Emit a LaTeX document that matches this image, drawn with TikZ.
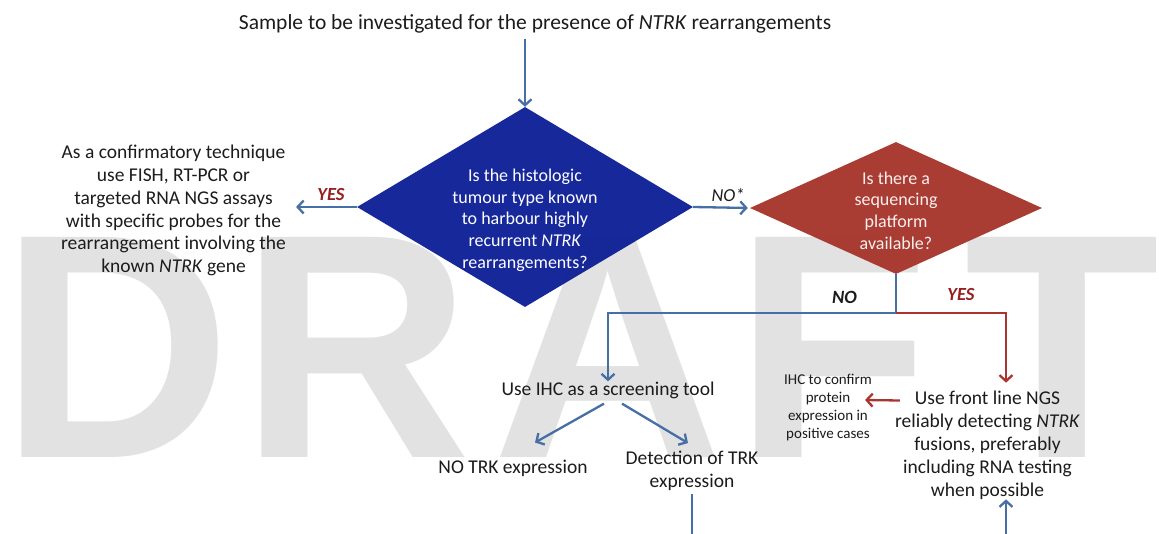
\documentclass[tikz,border=0pt]{standalone}
\usepackage{fontspec}
\setmainfont{Carlito}
\newfontfamily\wmfont{Liberation Sans Bold}
\usetikzlibrary{arrows.meta,shapes.geometric}

\definecolor{qblue}{RGB}{14,32,150}
\definecolor{qred}{RGB}{166,54,44}
\definecolor{lnblue}{RGB}{70,112,165}
\definecolor{lnred}{RGB}{172,52,46}
\definecolor{yesred}{RGB}{150,32,32}
\definecolor{wmgray}{RGB}{226,226,226}
\definecolor{ink}{RGB}{28,28,28}

\begin{document}
\begin{tikzpicture}[x=1pt,y=-1pt,
  wm/.style={font=\wmfont\fontsize{320}{320}\selectfont, text=wmgray, inner sep=0pt, anchor=base},
  body/.style={font=\fontsize{19.5}{22.9}\selectfont, text=ink, align=center, inner sep=0pt},
  small/.style={font=\fontsize{15}{18.3}\selectfont, text=ink, align=center, inner sep=0pt},
  qtxt/.style={font=\fontsize{18}{21.7}\selectfont, text=white, align=center, inner sep=0pt},
  qshape/.style={diamond, draw=none, fill opacity=0.96, inner sep=0pt},
  yeslbl/.style={font=\bfseries\itshape\fontsize{18.5}{20}\selectfont, text=yesred, inner sep=0pt},
  nolbl/.style={font=\itshape\fontsize{18.3}{20}\selectfont, text=ink, inner sep=0pt},
  conn/.style={draw=lnblue, line width=2.3pt},
  connred/.style={draw=lnred, line width=2.3pt},
  tip/.style={-{Straight Barb[length=6pt,width=13pt]}}
]
\useasboundingbox (0,0) rectangle (1159,533);
\clip (0,0) rectangle (1159,533);
\fill[white] (0,0) rectangle (1159,533);

% watermark lettering
\node[wm] (wD) at (116,457) {D};
\node[wm] (wR) at (356,457) {R};
\node[wm] (wA) at (608,457) {A};
\node[wm] (wF) at (832,457) {F};
\node[wm] (wT) at (1062,457) {T};

% decision shapes
\node[qshape, fill=qblue, minimum width=336pt, minimum height=200pt] (q1) at (525,207) {};
\node[qshape, fill=qred, minimum width=292pt, minimum height=132pt] (q2) at (896,208) {};
\node[qtxt] (q1t) at (525,220) {Is the histologic\\tumour type known\\to harbour highly\\recurrent \textit{NTRK}\\rearrangements?};
\node[qtxt, text=white!92!qred] (q2t) at (896,210.5) {Is there a\\sequencing\\platform\\available?};

% texts
\node[body, font=\fontsize{21.5}{26}\selectfont, anchor=base] (title) at (535,29.5)
  {Sample to be investigated for the presence of \textit{NTRK} rearrangements};
\node[body, inner xsep=10pt] (conf) at (173.5,210.5)
  {As a confirmatory technique\\use FISH, RT-PCR or\\targeted RNA NGS assays\\with specific probes for the\\rearrangement involving the\\known \textit{NTRK} gene};
\node[body] (screen) at (608,390) {Use IHC as a screening tool};
\node[body] (noTRK) at (513,468) {NO TRK expression};
\node[body] (detect) at (692,471) {Detection of TRK\\expression};
\node[small] (ihc) at (828,407.5) {IHC to confirm\\protein\\expression in\\positive cases};
\node[body] (ngs) at (987.5,445) {Use front line NGS\\reliably detecting \textit{NTRK}\\fusions, preferably\\including RNA testing\\when possible};

% branch labels
\node[yeslbl] (yes1) at (331,195) {YES};
\node[nolbl] (no1) at (728,195) {NO*};
\node[nolbl, font=\bfseries\itshape\fontsize{18.7}{20}\selectfont, fill=white,
  text width=59pt, inner xsep=4pt, minimum height=41pt, align=left] (no2) at (861.5,297.5) {NO};
\node[yeslbl] (yes2) at (961,295) {YES};

% connectors
\coordinate (split) at (896,313);
\coordinate (yesdrop) at (1006,313);
\coordinate (low) at (692,536);

\draw[conn, tip, shorten <=6pt] (q1.north |- title.south) -- (q1.north);
\draw[conn, tip] (q1.west) -- (q1.west -| conf.east);
\draw[conn, tip, shorten >=2pt] (q1.east) -- (q2.west);
\draw[conn] (q2.south) -- (split);
\draw[conn, tip] (split) -| (screen.north);
\draw[connred, tip, shorten >=8pt] (split) -- (yesdrop) -- (yesdrop |- ngs.north);
\draw[connred, tip] ([shift={(5,-44.5)}]ngs.west) -- ([shift={(-7,-7.5)}]ihc.east);
\draw[conn, tip] ([shift={(-4,5)}]screen.south) -- ([shift={(22,-17)}]noTRK.north);
\draw[conn, tip] ([shift={(14,5)}]screen.south) -- ([shift={(-4,-8)}]detect.north);
\draw[conn, tip, shorten <=3pt] (detect.south) -- (low) -| (yesdrop |- ngs.south);
\end{tikzpicture}
\end{document}
